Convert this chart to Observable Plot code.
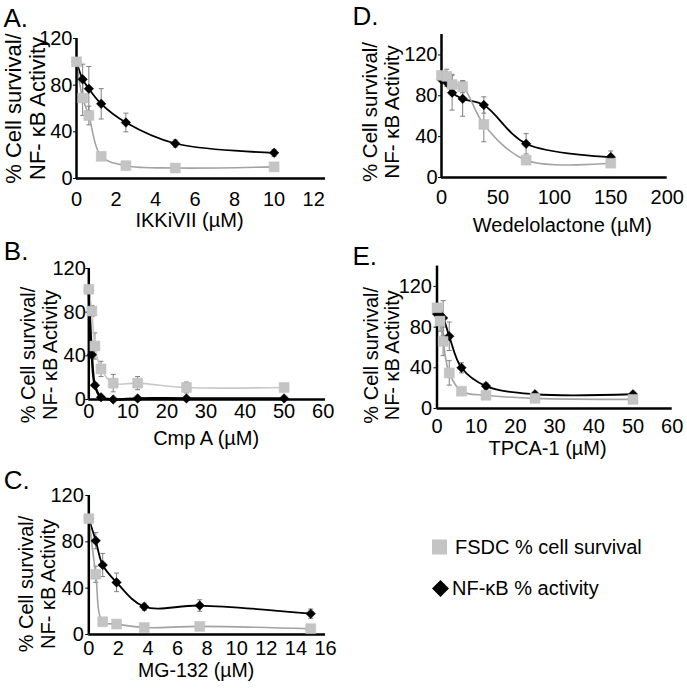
<!DOCTYPE html>
<html><head><meta charset="utf-8">
<script src="https://cdn.jsdelivr.net/npm/d3@7"></script>
<script src="https://cdn.jsdelivr.net/npm/@observablehq/plot@0.6"></script>
<style>
body{margin:0;background:#fff;}
#root{position:relative;width:687px;height:690px;overflow:hidden;background:#fff;font-family:"Liberation Sans",Arial,sans-serif;}
.panel{position:absolute;}
.leg{position:absolute;font-size:20px;color:#000;white-space:nowrap;line-height:1;}
</style></head><body><div id="root"></div>
<script>
// ---- data ----
const seriesNames = ["FSDC % cell survival", "NF-κB % activity"];
const yLabel = "% Cell survival/\nNF- κB Activity";
const panelLetters = ["A.", "B.", "C.", "D.", "E."];
const xTitles = ["IKKiVII (µM)", "Cmp A (µM)", "MG-132 (µM)", "Wedelolactone (µM)", "TPCA-1 (µM)"];

const concA = [0, 0.3125, 0.625, 1.25, 2.5, 5, 10];
const fsdcA = [100, 69, 54, 19, 11, 9, 10];
const fsdcErrA = [0, 15, 8, 0, 0, 0, 0];
const nfkbA = [100, 85, 77, 64, 48, 30, 22];
const nfkbErrA = [0, 13, 19, 13, 8, 3, 3];
const xTicksA = [0, 2, 4, 6, 8, 10, 12];

const concB = [0, 0.78, 1.56, 3.125, 6.25, 12.5, 25, 50];
const fsdcB = [101, 81, 49, 28, 15, 15, 11, 11];
const fsdcErrB = [3, 5, 12, 7, 8, 6, 5, 3];
const nfkbB = [100, 41, 13, 2, 0, 1, 1, 1];
const nfkbErrB = [0, 3, 2, 1, 0, 1, 1, 1];
const xTicksB = [0, 10, 20, 30, 40, 50, 60];

const concC = [0, 0.47, 0.94, 1.875, 3.75, 7.5, 15];
const fsdcC = [100, 52, 11, 9, 6, 7, 5];
const fsdcErrC = [0, 7, 2, 1, 1, 1, 1];
const nfkbC = [100, 81, 60, 45, 24, 25, 18];
const nfkbErrC = [0, 7, 10, 8, 3, 5, 4];
const xTicksC = [0, 2, 4, 6, 8, 10, 12, 14, 16];

const concD = [0, 4.7, 9.4, 18.75, 37.5, 75, 150];
const fsdcD = [100, 99, 91, 89, 52, 17, 14];
const fsdcErrD = [0, 7, 10, 6, 17, 3, 1];
const nfkbD = [96, 93, 83, 77, 71, 33, 20];
const nfkbErrD = [0, 4, 17, 17, 8, 10, 6];
const xTicksD = [0, 50, 100, 150, 200];

const concE = [0, 0.78, 1.56, 3.125, 6.25, 12.5, 25, 50];
const fsdcE = [99, 86, 66, 35, 17, 13, 10, 9];
const fsdcErrE = [0, 10, 14, 12, 2, 2, 2, 2];
const nfkbE = [93, 92, 89, 71, 40, 22, 14, 14];
const nfkbErrE = [0, 3, 17, 14, 5, 3, 2, 2];
const xTicksE = [0, 10, 20, 30, 40, 50, 60];

const yTicks = [0, 40, 80, 120];

// ---- layout ----
const FONT = "Liberation Sans, Arial, sans-serif";
const capSymbol = {draw(ctx, size) { const w = Math.sqrt(size / Math.PI); ctx.moveTo(-w, 0); ctx.lineTo(w, 0); }};

const panels = [
  {conc: concA, fsdc: fsdcA, fsdcErr: fsdcErrA, nfkb: nfkbA, nfkbErr: nfkbErrA, xTicks: xTicksA, xMax: 12.6, yMax: 120,
   box: [0, 0, 340, 230], m: [38, 15, 52, 76], xPad: 13, yPad: 4, t: [-11.5, 42, 20], yl: [-51, 0, 22], lt: [-73, -20], gray: "#a3a3a3"},
  {conc: concB, fsdc: fsdcB, fsdcErr: fsdcErrB, nfkb: nfkbB, nfkbErr: nfkbErrB, xTicks: xTicksB, xMax: 60.6, yMax: 120,
   box: [0, 230, 340, 230], m: [38, 15, 61, 88.3], xPad: 4, yPad: 3, t: [-1, 39, 20], yl: [-50, 21, 20], lt: [-85, -17], gray: "#c8c8c8"},
  {conc: concC, fsdc: fsdcC, fsdcErr: fsdcErrC, nfkb: nfkbC, nfkbErr: nfkbErrC, xTicks: xTicksC, xMax: 16, yMax: 120,
   box: [0, 460, 340, 230], m: [35, 15, 56, 88.3], xPad: 6, yPad: 5, t: [-11, 36, 19.5], yl: [-52, 19, 20], lt: [-85, -15], gray: "#a3a3a3"},
  {conc: concD, fsdc: fsdcD, fsdcErr: fsdcErrD, nfkb: nfkbD, nfkbErr: nfkbErrD, xTicks: xTicksD, xMax: 200, yMax: 140,
   box: [340, 0, 347, 230], m: [34, 20.3, 53, 101], xPad: 12, yPad: 4, t: [8, 48, 20], yl: [-61, 6, 20.5], lt: [-89, -18], gray: "#a3a3a3"},
  {conc: concE, fsdc: fsdcE, fsdcErr: fsdcErrE, nfkb: nfkbE, nfkbErr: nfkbErrE, xTicks: xTicksE, xMax: 60, yMax: 140,
   box: [340, 230, 347, 230], m: [35.6, 15.3, 52, 96.5], xPad: 10, yPad: 5, t: [-7, 40, 20], yl: [-55.5, 18, 20], lt: [-84.5, -9.6], gray: "#a3a3a3"}
];

const root = document.getElementById("root");

panels.forEach((p, i) => {
  const g = p.conc.map((x, j) => ({x, y: p.fsdc[j], e: p.fsdcErr[j]}));
  const b = p.conc.map((x, j) => ({x, y: p.nfkb[j], e: p.nfkbErr[j]}));
  const errs = b.concat(g).filter(d => d.e > 0);
  const chart = Plot.plot({
    width: p.box[2], height: p.box[3],
    marginTop: p.m[0], marginRight: p.m[1], marginBottom: p.m[2], marginLeft: p.m[3],
    style: {fontSize: "20px", fontFamily: FONT, background: "transparent", overflow: "visible", color: "#000"},
    x: {domain: [0, p.xMax], ticks: p.xTicks, tickSize: 0, tickPadding: p.xPad, tickFormat: d => String(d), label: null},
    y: {domain: [0, p.yMax], ticks: yTicks, tickSize: 3, tickPadding: Math.max(0, p.yPad - 3), tickFormat: d => String(d), label: null},
    marks: [
      Plot.link(errs, {x1: "x", x2: "x", y1: d => d.y - d.e, y2: d => d.y + d.e, stroke: "#7f7f7f", strokeWidth: 1}),
      Plot.dot(errs, {x: "x", y: d => d.y + d.e, symbol: capSymbol, r: 2.5, stroke: "#7f7f7f", fill: "none", strokeWidth: 1}),
      Plot.dot(errs, {x: "x", y: d => d.y - d.e, symbol: capSymbol, r: 2.5, stroke: "#7f7f7f", fill: "none", strokeWidth: 1}),
      Plot.line(b, {x: "x", y: "y", curve: "catmull-rom", stroke: "#000", strokeWidth: i === 1 ? 2.5 : 1.8}),
      Plot.line(g, {x: "x", y: "y", curve: "catmull-rom", stroke: p.gray, strokeWidth: 1.6}),
      Plot.ruleY([0], {stroke: "#000", strokeWidth: 2.5}),
      Plot.ruleX([0], {stroke: "#000", strokeWidth: 2.5}),
      Plot.dot(b, {x: "x", y: "y", symbol: "diamond2", r: 4.3, fill: "#000", stroke: "#000", strokeWidth: 0.5}),
      Plot.dot(g, {x: "x", y: "y", symbol: "square", r: 5.6, fill: "#c4c4c4", stroke: "#bdbdbd", strokeWidth: 0.5}),
      Plot.text([xTitles[i]], {frameAnchor: "bottom", textAnchor: "middle", lineAnchor: "middle", dx: p.t[0], dy: p.t[1], fontSize: p.t[2], fontFamily: FONT, fill: "#000"}),
      Plot.text([yLabel], {frameAnchor: "left", textAnchor: "middle", lineAnchor: "middle", rotate: -90, dx: p.yl[0], dy: p.yl[1], fontSize: p.yl[2], lineHeight: 1.08, fontFamily: FONT, fill: "#000"}),
      Plot.text([panelLetters[i]], {frameAnchor: "top-left", textAnchor: "start", lineAnchor: "middle", dx: p.lt[0], dy: p.lt[1], fontSize: 26, fontFamily: FONT, fill: "#000"})
    ]
  });
  const wrap = document.createElement("div");
  wrap.className = "panel";
  wrap.style.left = p.box[0] + "px";
  wrap.style.top = p.box[1] + "px";
  wrap.appendChild(chart);
  root.appendChild(wrap);
});

// ---- legend ----
const legendItems = [
  {name: seriesNames[0], sym: "square", top: 547},
  {name: seriesNames[1], sym: "diamond", top: 588}
];
legendItems.forEach(it => {
  const d = document.createElement("div");
  d.className = "leg";
  d.style.left = "431px";
  d.style.top = (it.top - 10) + "px";
  d.style.display = "flex";
  d.style.alignItems = "center";
  const s = it.sym === "square"
    ? '<svg width="18" height="18" style="margin-right:6px"><rect x="1" y="1.5" width="15" height="15" fill="#c4c4c4"/></svg>'
    : '<svg width="19" height="19" style="margin-right:2px"><polygon points="9.5,1 18,9.5 9.5,18 1,9.5" fill="#000"/></svg>';
  d.innerHTML = s + '<span>' + it.name + '</span>';
  root.appendChild(d);
});
</script></body></html>
